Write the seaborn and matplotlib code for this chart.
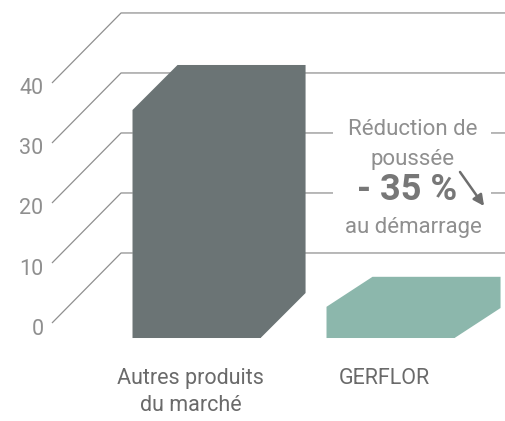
import seaborn as sns
import matplotlib.pyplot as plt
from matplotlib.patches import Polygon, Rectangle

# data
categories = ['Autres produits\ndu marché', 'GERFLOR']
values = [38, 5.2]
tick_values = [0, 10, 20, 30, 40]
bar_colors = ['#6b7475', '#8cb7ac']
note_lines = ['Réduction de', 'poussée', '- 35 %', 'au démarrage']

# fake 3D depth of each bar: (dx in category units, dy in value units)
depths = [(0.232, 7.5), (0.237, 5.0)]
grid_front = (-0.745, 2.5)    # x, value offset of the front ends of the grid
grid_back = (-0.389, 14.17)   # x, value offset of the back plane

sns.set_theme(style='white')
plt.rcParams['font.family'] = ['Roboto', 'DejaVu Sans']

fig = plt.figure(figsize=(5.05, 4.21), dpi=100)
ax = fig.add_axes([0, 0, 1, 1])

sns.barplot(x=categories, y=values, hue=categories, palette=bar_colors,
            width=0.66, saturation=1, legend=False, ax=ax, zorder=3)

# extrude each bar up and to the right
for patch in ax.patches:
    x0, w, h = patch.get_x(), patch.get_width(), patch.get_height()
    i = int(round(x0 + w / 2))
    dx, dy = depths[i]
    pts = [(x0, 0), (x0, h), (x0 + dx, h + dy), (x0 + w + dx, h + dy),
           (x0 + w + dx, dy), (x0 + w, 0)]
    ax.add_patch(Polygon(pts, closed=True, facecolor=bar_colors[i],
                         edgecolor='none', zorder=3))

xmin, xmax = -1.013, 1.59
grid_col = '#8f8f8f'
txt_col = '#8f8f8f'
for t in tick_values:
    yf = t + grid_front[1]
    yb = t + grid_back[1]
    ax.plot([grid_front[0], grid_back[0], xmax], [yf, yb, yb],
            color=grid_col, lw=0.9, zorder=1, solid_capstyle='butt')
    ax.text(-0.789, yf - 1.0, str(t), ha='right', va='center',
            fontsize=15.5, color=txt_col)

# category labels
for i, lab in enumerate(categories):
    ax.text(i - 0.03, -5.0, lab, ha='center', va='top', fontsize=15.5,
            color='#6a6a6a', linespacing=1.35)

# annotation block (white patch interrupts the grid lines)
ax.add_patch(Rectangle((0.704, 16.33), 0.814, 20.34, facecolor='white',
                       edgecolor='none', zorder=4))
ax.text(1.116, 34.67, note_lines[0], ha='center', va='center', fontsize=16,
        color=txt_col, zorder=5)
ax.text(1.116, 29.67, note_lines[1], ha='center', va='center', fontsize=16,
        color=txt_col, zorder=5)
ax.text(1.086, 24.6, note_lines[2], ha='center', va='center', fontsize=26,
        color='#777777', fontweight='bold', zorder=5)
ax.text(1.116, 18.5, note_lines[3], ha='center', va='center', fontsize=16,
        color=txt_col, zorder=5)
ax.annotate('', xy=(1.482, 22.0), xytext=(1.358, 27.67),
            arrowprops=dict(arrowstyle='-|>', color='#6e6e6e', lw=1.8,
                            mutation_scale=16, shrinkA=0, shrinkB=0),
            zorder=5)

ax.set_xlim(xmin, xmax)
ax.set_ylim(-13.83, 56.33)
ax.set_axis_off()

fig.savefig('out.png', dpi=100, facecolor='white')
